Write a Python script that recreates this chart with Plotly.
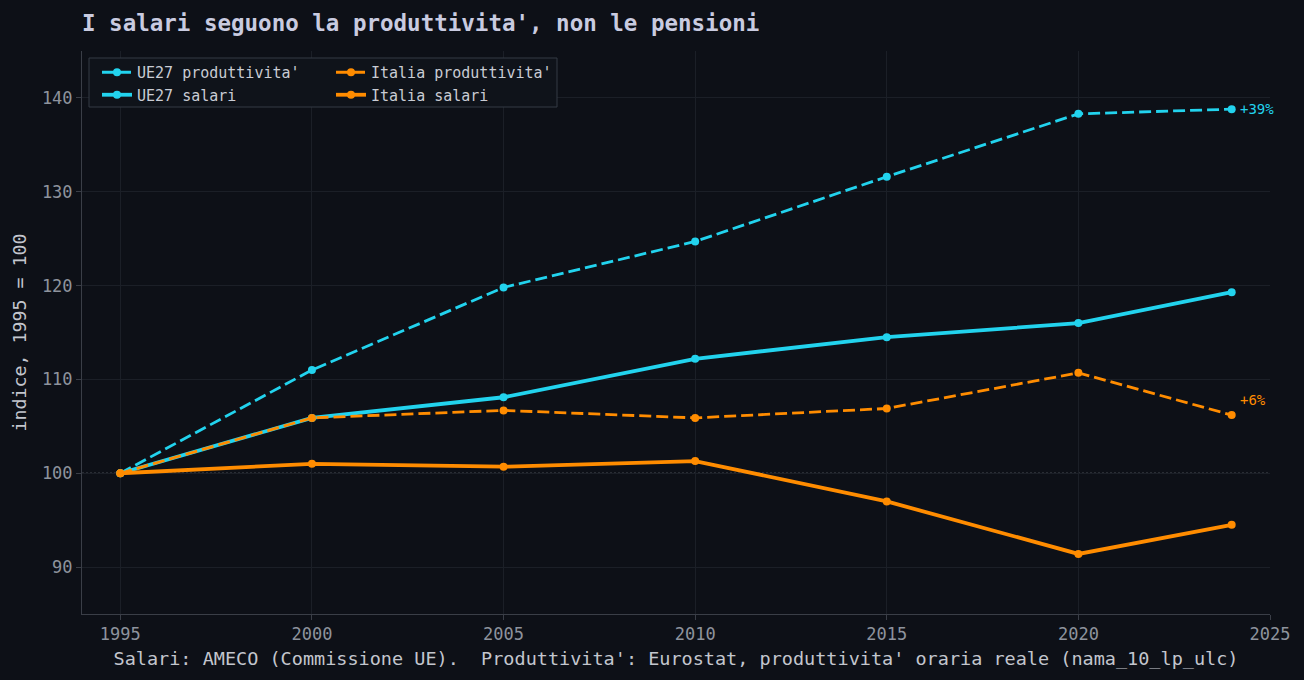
import plotly.graph_objects as go

years = [1995, 2000, 2005, 2010, 2015, 2020, 2024]
ue27_prod = [100.0, 111.0, 119.8, 124.7, 131.6, 138.3, 138.8]
ue27_sal = [100.0, 105.9, 108.1, 112.2, 114.5, 116.0, 119.3]
ita_prod = [100.0, 105.9, 106.7, 105.9, 106.9, 110.7, 106.2]
ita_sal = [100.0, 101.0, 100.7, 101.3, 97.0, 91.4, 94.5]
base_value = 100

names = ["UE27 produttivita'", "UE27 salari", "Italia produttivita'", "Italia salari"]
title_text = "I salari seguono la produttivita', non le pensioni"
xlabel = "Salari: AMECO (Commissione UE).  Produttivita': Eurostat, produttivita' oraria reale (nama_10_lp_ulc)"
ylabel = "indice, 1995 = 100"
x_ticks = [1995, 2000, 2005, 2010, 2015, 2020, 2025]
y_ticks = [90, 100, 110, 120, 130, 140]

CYAN = "#22d3ee"
ORANGE = "#ff8c00"
BG = "#0d1017"
FONT = "DejaVu Sans Mono"

fig = go.Figure()

series = [
    (ue27_prod, names[0], CYAN, "dash", 2.8, "legend"),
    (ue27_sal, names[1], CYAN, "solid", 3.8, "legend"),
    (ita_prod, names[2], ORANGE, "dash", 2.8, "legend2"),
    (ita_sal, names[3], ORANGE, "solid", 3.8, "legend2"),
]
for vals, name, col, dash, w, leg in series:
    fig.add_trace(go.Scatter(
        x=years, y=vals, name=name, mode="lines+markers",
        line=dict(color=col, width=w, dash=("12px,5px" if dash == "dash" else "solid")),
        marker=dict(color=col, size=8),
        legend=leg,
    ))

# reference line at base
fig.add_shape(type="line", xref="paper", x0=0, x1=1, yref="y", y0=base_value, y1=base_value,
              line=dict(color="#80858e", width=1, dash="2px,2px"), layer="below")

# legend box
fig.add_shape(type="rect", xref="paper", yref="paper",
              x0=(89 - 82) / 1188, x1=(557 - 82) / 1188,
              y0=1 - (107 - 51) / 563, y1=1 - (58 - 51) / 563,
              line=dict(color="#353a44", width=1), fillcolor="#0f131a", layer="above")

# end annotations
for vals, col, ys in [(ue27_prod, CYAN, 0), (ita_prod, ORANGE, 15)]:
    pct = round(vals[-1] - base_value)
    fig.add_annotation(x=years[-1], y=vals[-1], text=f"+{pct}%", showarrow=False,
                       xanchor="left", yanchor="middle", xshift=6, yshift=ys,
                       font=dict(family=FONT, size=14, color=col))

axis_common = dict(
    showgrid=True, gridcolor="#1b1f27", gridwidth=1,
    showline=True, linecolor="#3a3e47", linewidth=1,
    ticks="outside", ticklen=5, tickcolor="#3a3e47",
    tickfont=dict(family=FONT, size=17, color="#8e939d"),
    zeroline=False,
)

fig.update_layout(
    width=1304, height=680,
    paper_bgcolor=BG, plot_bgcolor=BG,
    margin=dict(l=82, r=34, t=51, b=66),
    showlegend=True,
    title=dict(text=f"<b>{title_text}</b>", x=82 / 1304, xanchor="left", xref="container",
               y=1 - 23 / 680, yanchor="middle", yref="container",
               font=dict(family=FONT, size=22.5, color="#c9cbe0")),
    xaxis=dict(range=[1994, 2025], tickvals=x_ticks,
               title=dict(text=xlabel, font=dict(family=FONT, size=18.5, color="#c3c6ce"), standoff=8),
               **axis_common),
    yaxis=dict(range=[85, 145], tickvals=y_ticks,
               title=dict(text=ylabel, font=dict(family=FONT, size=18.3, color="#c3c6ce"), standoff=10),
               **axis_common),
    legend=dict(x=(97 - 82) / 1188, y=1 - (56 - 51) / 563, xanchor="left", yanchor="top",
                bgcolor="rgba(0,0,0,0)", borderwidth=0, tracegroupgap=0,
                font=dict(family=FONT, size=15, color="#c9ccd4")),
    legend2=dict(x=(331 - 82) / 1188, y=1 - (56 - 51) / 563, xanchor="left", yanchor="top",
                 bgcolor="rgba(0,0,0,0)", borderwidth=0, tracegroupgap=0,
                 font=dict(family=FONT, size=15, color="#c9ccd4")),
    hovermode=False,
)

fig.write_html("out.html")
